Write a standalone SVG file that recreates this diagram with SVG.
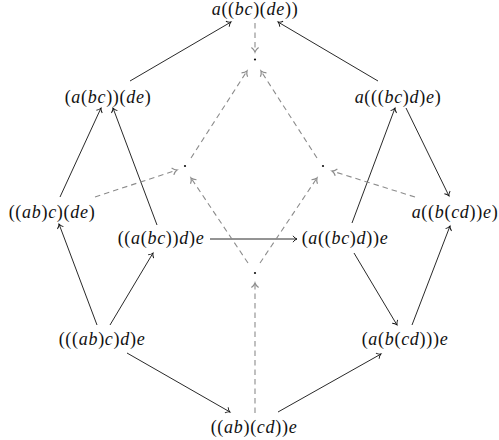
<svg xmlns="http://www.w3.org/2000/svg" width="499" height="440" viewBox="0 0 499 440">
<style>
.t{font-family:"Liberation Serif","DejaVu Serif","Times New Roman",serif;font-size:18px;text-anchor:middle;fill:#111;letter-spacing:0.7px}
.i{font-style:italic}
.s{fill:none;stroke:#111;stroke-width:0.9;marker-end:url(#ah)}
.d{fill:none;stroke:#8c8c8c;stroke-width:1.1;stroke-dasharray:5.5,4;marker-end:url(#ag)}
</style>
<defs>
<marker id="ah" viewBox="-5 -4 6 8" refX="0" refY="0" markerWidth="6" markerHeight="8" markerUnits="userSpaceOnUse" orient="auto" overflow="visible">
<path d="M-4,-3.2 C-2.8,-1.4 -1.2,-0.4 0,0 C-1.2,0.4 -2.8,1.4 -4,3.2" fill="none" stroke="#111" stroke-width="0.9" stroke-dasharray="none"/>
</marker>
<marker id="ag" viewBox="-5 -4 6 8" refX="0" refY="0" markerWidth="6" markerHeight="8" markerUnits="userSpaceOnUse" orient="auto" overflow="visible">
<path d="M-4.5,-3.6 C-3,-1.6 -1.3,-0.4 0,0 C-1.3,0.4 -3,1.6 -4.5,3.6" fill="none" stroke="#8c8c8c" stroke-width="1.2" stroke-dasharray="none"/>
</marker>
</defs>
<g id="connectors">
<path class="s" d="M130,81 L231,22"/>
<path class="s" d="M378,81 L278,22"/>
<path class="s" d="M60,197 L101,108"/>
<path class="s" d="M157,225 L113,108"/>
<path class="s" d="M97,325 L59,224"/>
<path class="s" d="M110,325 L153,253"/>
<path class="s" d="M127,353 L230,412"/>
<path class="s" d="M278,412 L381,354"/>
<path class="s" d="M354,253 L397,325"/>
<path class="s" d="M412,325 L450,226"/>
<path class="s" d="M352,223 L395,108"/>
<path class="s" d="M406,108 L449,196"/>
<path class="s" d="M210,239 L297,239"/>
<path class="d" d="M255,23 L255,52"/>
<path class="d" d="M191,158 L247,71"/>
<path class="d" d="M317,158 L261,71"/>
<path class="d" d="M95,197 L177,170"/>
<path class="d" d="M415,197 L332,171"/>
<path class="d" d="M248,263 L191,178"/>
<path class="d" d="M260,263 L317,178"/>
<path class="d" d="M255,413 L255,283"/>
</g>
<g id="dots" fill="#111">
<circle cx="255" cy="59.5" r="1.1"/>
<circle cx="185" cy="166" r="1.1"/>
<circle cx="323" cy="166" r="1.1"/>
<circle cx="255" cy="273" r="1.1"/>
</g>
<g id="n1"><text class="t" x="255" y="15"><tspan class="i">a</tspan>((<tspan class="i">bc</tspan>)(<tspan class="i">de</tspan>))</text></g>
<g id="n2"><text class="t" x="108" y="103">(<tspan class="i">a</tspan>(<tspan class="i">bc</tspan>))(<tspan class="i">de</tspan>)</text></g>
<g id="n3"><text class="t" x="398" y="103"><tspan class="i">a</tspan>(((<tspan class="i">bc</tspan>)<tspan class="i">d</tspan>)<tspan class="i">e</tspan>)</text></g>
<g id="n4"><text class="t" x="52" y="218">((<tspan class="i">ab</tspan>)<tspan class="i">c</tspan>)(<tspan class="i">de</tspan>)</text></g>
<g id="n5"><text class="t" x="455" y="218"><tspan class="i">a</tspan>((<tspan class="i">b</tspan>(<tspan class="i">cd</tspan>))<tspan class="i">e</tspan>)</text></g>
<g id="n6"><text class="t" x="161" y="244">((<tspan class="i">a</tspan>(<tspan class="i">bc</tspan>))<tspan class="i">d</tspan>)<tspan class="i">e</tspan></text></g>
<g id="n7"><text class="t" x="345" y="244">(<tspan class="i">a</tspan>((<tspan class="i">bc</tspan>)<tspan class="i">d</tspan>))<tspan class="i">e</tspan></text></g>
<g id="n8"><text class="t" x="102" y="345">(((<tspan class="i">ab</tspan>)<tspan class="i">c</tspan>)<tspan class="i">d</tspan>)<tspan class="i">e</tspan></text></g>
<g id="n9"><text class="t" x="405" y="345">(<tspan class="i">a</tspan>(<tspan class="i">b</tspan>(<tspan class="i">cd</tspan>)))<tspan class="i">e</tspan></text></g>
<g id="n10"><text class="t" x="254" y="433">((<tspan class="i">ab</tspan>)(<tspan class="i">cd</tspan>))<tspan class="i">e</tspan></text></g>
</svg>
